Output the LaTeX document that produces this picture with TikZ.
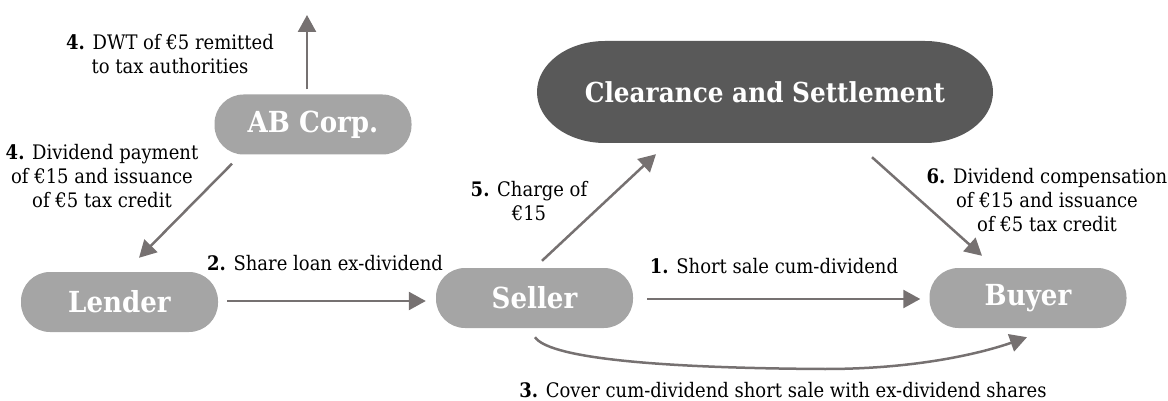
\documentclass[tikz,border=0pt]{standalone}
\usepackage{fontspec}
\setmainfont{DejaVu Serif}[FakeStretch=0.9]
\usetikzlibrary{arrows.meta,calc}
\definecolor{arrowgray}{HTML}{767171}
\definecolor{nodegray}{HTML}{A5A5A5}
\definecolor{csgray}{HTML}{595959}
\begin{document}
\begin{tikzpicture}[x=1pt,y=-1pt,
  party/.style={fill=nodegray, rounded corners=29pt, minimum width=197pt, minimum height=60pt,
    text=white, font=\fontsize{29}{34}\selectfont\bfseries, inner sep=0pt},
  lbl/.style={align=center, font=\fontsize{20}{24}\selectfont, inner sep=0pt, text=black},
  arr/.style={draw=arrowgray, line width=2.5pt, -{Triangle[width=18pt,length=17pt]}}
]
\useasboundingbox (0,0) rectangle (1168,401);

% Clearance and Settlement stadium
\fill[csgray] (605,41) -- (925,41)
  arc[start angle=90, end angle=-90, x radius=68pt, y radius=51pt]
  -- (605,143)
  arc[start angle=270, end angle=90, x radius=68pt, y radius=51pt] -- cycle;
\node[text=white, font=\fontsize{27.5}{32}\selectfont\bfseries, minimum width=456pt, minimum height=102pt, inner sep=0pt] (CS) at (765,92) {Clearance and Settlement};

\node[party] (AB) at (313,124.5) {AB Corp.};
\node[party] (Lender) at (119.5,302) {Lender};
\node[party] (Seller) at (534.5,298) {Seller};
\node[party] (Buyer) at (1028,298) {Buyer};

\coordinate (tax) at (307,15);
\coordinate (cvlow) at (825,369);

% labels
\node[lbl] (l4a) at (170,54) {\textbf{4.} DWT of €5 remitted\\to tax authorities};
\node[lbl] (l4b) at (102,176) {\textbf{4.} Dividend payment\\of €15 and issuance\\of €5 tax credit};
\node[lbl] (l5) at (529,201) {\textbf{5.} Charge of\\€15};
\node[lbl] (l6) at (1047,200) {\textbf{6.} Dividend compensation\\of €15 and issuance\\of €5 tax credit};
\node[lbl] (l2) at (325,263) {\textbf{2.} Share loan ex-dividend};
\node[lbl] (l1) at (774,266) {\textbf{1.} Short sale cum-dividend};
\node[lbl] (l3) at (783,390) {\textbf{3.} Cover cum-dividend short sale with ex-dividend shares};

% connectors
\draw[arr] ($(AB.north)+(-6,-5)$) -- (tax);
\draw[arr] ($(AB.south)+(-81,9)$) -- ($(Lender.north)+(19.5,-14)$);
\draw[arr] ($(Lender.east)+(9,-1)$) -- ($(Seller.west)+(-10,3)$);
\draw[arr] ($(Seller.east)+(14,1)$) -- ($(Buyer.west)+(-9,1)$);
\draw[arr] ($(Seller.north)+(7.5,-7)$) -- ($(CS.south)+(-109,11)$);
\draw[arr] ($(CS.south)+(107,14)$) -- ($(Buyer.north)+(-46,-12)$);
\draw[arr] ($(Seller.south)+(0.5,9)$) .. controls +(13,19) and (640,368) .. (cvlow)
  .. controls (920,369) and (985,352) .. ($(Buyer.south)+(-1,9)$);
\end{tikzpicture}
\end{document}
